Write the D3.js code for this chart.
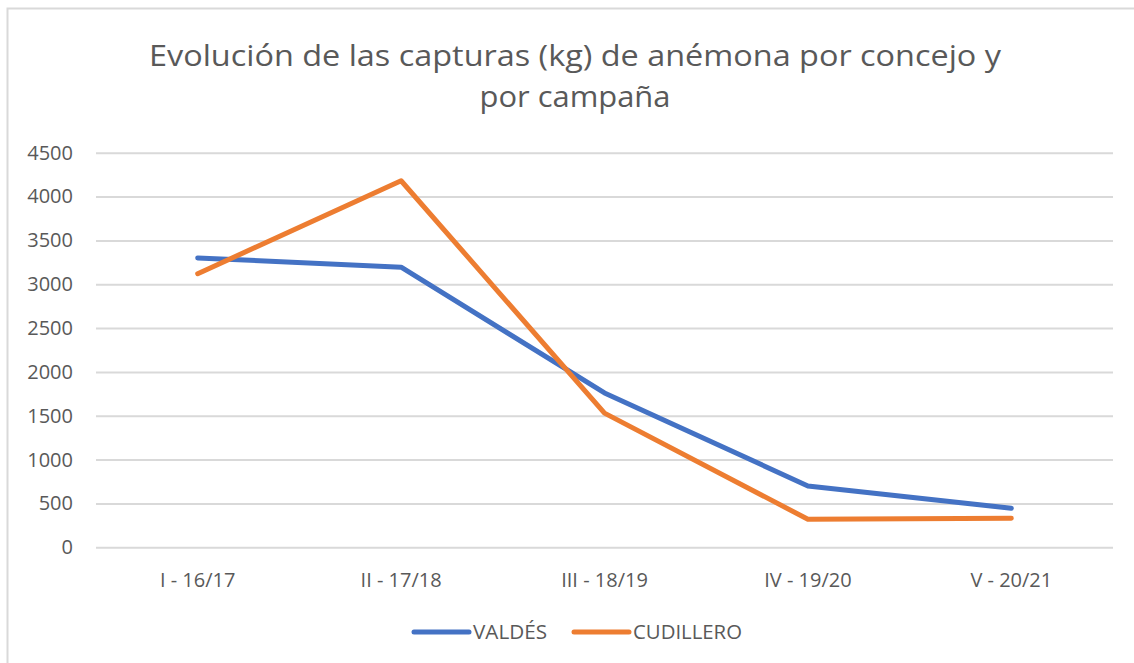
<!DOCTYPE html>
<html><head><meta charset="utf-8">
<script src="https://cdn.jsdelivr.net/npm/d3@7"></script>
<style>body{margin:0;background:#fff}svg{display:block}</style>
</head><body>
<svg id="c" width="1134" height="663"></svg>
<script>
const categories = ["I - 16/17","II - 17/18","III - 18/19","IV - 19/20","V - 20/21"];
const valdes = [3300, 3195, 1760, 700, 445];
const cudillero = [3120, 4180, 1530, 320, 330];
const yTicks = [0,500,1000,1500,2000,2500,3000,3500,4000,4500];
const seriesNames = ["VALDÉS","CUDILLERO"];
const colors = ["#4472C4","#ED7D31"];

const svg = d3.select("#c");
const font = "'Open Sans', 'Noto Sans', sans-serif";
svg.append("rect").attr("x",7.5).attr("y",8.5).attr("width",1140).attr("height",670)
  .attr("fill","#fff").attr("stroke","#d9d9d9").attr("stroke-width",2);

const x = d3.scaleBand().domain(categories).range([96,1113]);
const y = d3.scaleLinear().domain([0,4500]).range([547.3,152.7]);

// title
const title = svg.append("g").attr("font-family",font).attr("fill","#595959").attr("font-size",30).attr("text-anchor","middle");
title.append("text").attr("x",575).attr("y",66).attr("textLength",852).attr("lengthAdjust","spacingAndGlyphs").text("Evolución de las capturas (kg) de anémona por concejo y");
title.append("text").attr("x",575).attr("y",107).attr("textLength",191).attr("lengthAdjust","spacingAndGlyphs").text("por campaña");

// grid
const yAxis = svg.append("g").attr("transform","translate(96,0)")
  .call(d3.axisLeft(y).tickValues(yTicks).tickSize(-1017).tickPadding(23).tickFormat(d3.format("d")));
yAxis.select(".domain").remove();
yAxis.selectAll("line").attr("stroke","#d9d9d9").attr("stroke-width",2);
yAxis.selectAll("text").attr("font-family",font).attr("font-size",20).attr("fill","#595959");

const xAxis = svg.append("g").attr("transform","translate(0,547.3)")
  .call(d3.axisBottom(x).tickSize(0));
xAxis.select(".domain").remove();
xAxis.selectAll("text").attr("y",40).attr("dy",0).attr("font-family",font).attr("font-size",20).attr("fill","#595959");

const line = d3.line().x((d,i)=>x(categories[i])+x.bandwidth()/2).y(d=>y(d));
[valdes,cudillero].forEach((s,k)=>{
  svg.append("path").datum(s).attr("d",line).attr("fill","none")
    .attr("stroke",colors[k]).attr("stroke-width",5).attr("stroke-linecap","round").attr("stroke-linejoin","round");
});

// legend
const lg = svg.append("g").attr("font-family",font).attr("font-size",20).attr("fill","#595959");
const lx = [414, 574];
const lw = [74, 109];
seriesNames.forEach((n,k)=>{
  lg.append("line").attr("x1",lx[k]).attr("x2",lx[k]+55).attr("y1",632).attr("y2",632)
    .attr("stroke",colors[k]).attr("stroke-width",5).attr("stroke-linecap","round");
  lg.append("text").attr("x",lx[k]+59).attr("y",639).attr("textLength",lw[k]).attr("lengthAdjust","spacingAndGlyphs").text(n);
});
</script>
</body></html>
